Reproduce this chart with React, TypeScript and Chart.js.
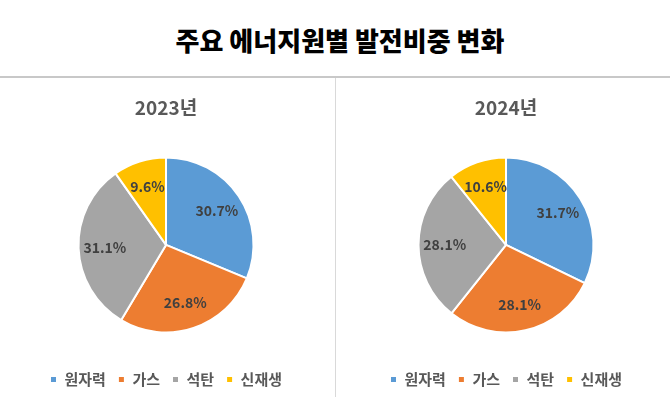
import React, { useEffect, useRef } from "react";
import { Chart, registerables } from "chart.js";

Chart.register(...registerables);

const mainTitle = "주요 에너지원별 발전비중 변화";
const categories = ["원자력", "가스", "석탄", "신재생"];
const colors = ["#5B9BD5", "#ED7D31", "#A5A5A5", "#FFC000"];
const years = ["2023년", "2024년"];
const values2023 = [30.7, 26.8, 31.1, 9.6];
const values2024 = [31.7, 28.1, 28.1, 10.6];

const FONT = "'Noto Sans CJK KR', 'Noto Sans', sans-serif";

const labelPlugin = {
  id: "pieLabels",
  afterDatasetsDraw(chart: any) {
    const ctx = chart.ctx;
    const meta = chart.getDatasetMeta(0);
    const data = chart.data.datasets[0].data as number[];
    ctx.save();
    ctx.font = `bold 14px ${FONT}`;
    ctx.fillStyle = "#404040";
    ctx.textAlign = "center";
    ctx.textBaseline = "middle";
    meta.data.forEach((arc: any, i: number) => {
      const p = arc.getProps(["x", "y", "startAngle", "endAngle", "outerRadius"], true);
      const mid = (p.startAngle + p.endAngle) / 2;
      const r = p.outerRadius * 0.7;
      ctx.fillText(data[i].toFixed(1) + "%", p.x + Math.cos(mid) * r, p.y + Math.sin(mid) * r);
    });
    ctx.restore();
  },
};

function PieChart(props: { title: string; values: number[]; padLeft: number; padRight: number }) {
  const ref = useRef<HTMLCanvasElement>(null);
  useEffect(() => {
    if (!ref.current) return;
    const chart = new Chart(ref.current, {
      type: "pie",
      data: {
        labels: categories,
        datasets: [
          {
            data: props.values,
            backgroundColor: colors,
            borderColor: "#ffffff",
            borderWidth: 2,
            radius: 87.5,
          } as any,
        ],
      },
      options: {
        animation: false,
        responsive: false,
        devicePixelRatio: 1,
        layout: { padding: { left: props.padLeft, right: props.padRight, top: 0, bottom: 0 } },
        plugins: {
          tooltip: { enabled: false },
          title: {
            display: true,
            text: props.title,
            color: "#595959",
            font: { family: FONT, size: 19, weight: "bold", lineHeight: 1.2 },
            padding: { top: 18, bottom: 11 },
          },
          legend: {
            display: true,
            position: "bottom",
            labels: {
              boxWidth: 7,
              boxHeight: 7,
              padding: 12,
              color: "#595959",
              font: { family: FONT, size: 15, weight: "bold" },
            },
          },
        },
      },
      plugins: [labelPlugin],
    });
    return () => chart.destroy();
  }, []);
  return <canvas ref={ref} width={334} height={319} style={{ display: "block", width: 334, height: 319 }} />;
}

export default function App() {
  return (
    <div style={{ position: "absolute", left: 0, top: 0, width: 670, height: 397, background: "#fff", overflow: "hidden" }}>
      <div
        style={{
          position: "absolute",
          left: 10,
          top: 27,
          width: 660,
          textAlign: "center",
          fontFamily: FONT,
          fontWeight: 900,
          fontSize: 26,
          lineHeight: "26px",
          color: "#000",
        }}
      >
        {mainTitle}
      </div>
      <div style={{ position: "absolute", left: 0, top: 76, width: 670, height: 2, background: "#c8c8c8" }} />
      <div style={{ position: "absolute", left: 335, top: 78, width: 1, height: 319, background: "#d9d9d9" }} />
      <div style={{ position: "absolute", left: 0, top: 78 }}>
        <PieChart title={years[0]} values={values2023} padLeft={0} padRight={2} />
      </div>
      <div style={{ position: "absolute", left: 336, top: 78 }}>
        <PieChart title={years[1]} values={values2024} padLeft={6} padRight={0} />
      </div>
    </div>
  );
}
